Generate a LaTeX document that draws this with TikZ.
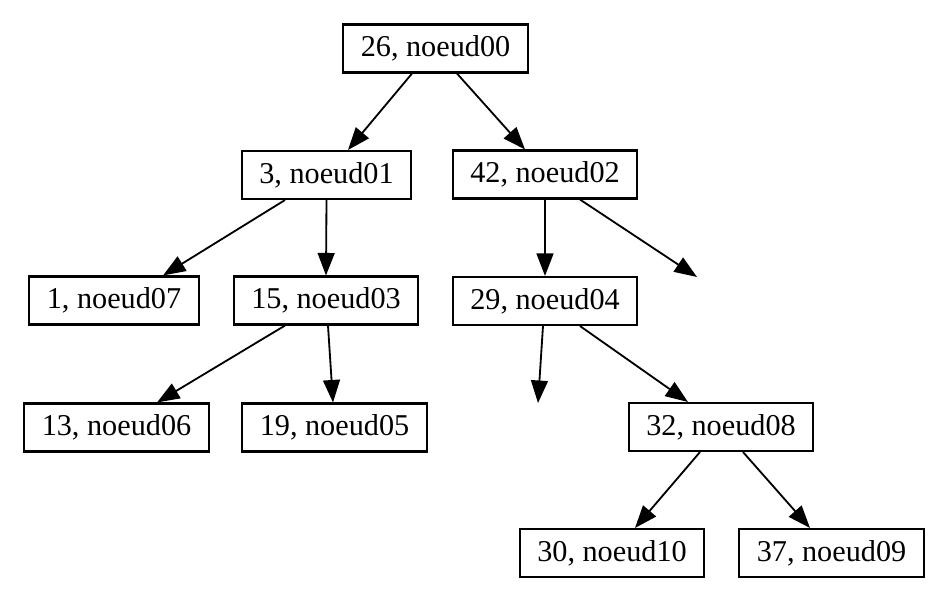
\documentclass[tikz,border=0pt]{standalone}
\usepackage{fontspec}
\setmainfont{Liberation Serif}
\usetikzlibrary{arrows.meta,calc}

\begin{document}
\begin{tikzpicture}[x=0.025cm,y=-0.025cm,
	noeud/.style={draw,line width=1.6pt,font=\fontsize{21.5}{25}\selectfont,minimum height=34pt,inner xsep=12.5pt,inner ysep=0pt},
	fleche/.style={line width=1.3pt,-{Triangle[length=16pt,width=12pt]}}]
	% frame of the picture
	\useasboundingbox (0,0) rectangle (943,598);
	% the nodes, row by row
	\node[noeud] (n00) at (435.5,48.5) {26, noeud00};
	\node[noeud] (n01) at (326.5,175) {3, noeud01};
	\node[noeud] (n02) at (545,174.5) {42, noeud02};
	\node[noeud] (n07) at (114,300.5) {1, noeud07};
	\node[noeud] (n03) at (326,300.5) {15, noeud03};
	\node[noeud] (n04) at (545,301) {29, noeud04};
	\node[noeud] (n06) at (116.5,427.5) {13, noeud06};
	\node[noeud] (n05) at (334.5,427.5) {19, noeud05};
	\node[noeud] (n08) at (721,427) {32, noeud08};
	\node[noeud] (n10) at (612,553) {30, noeud10};
	\node[noeud] (n09) at (831.5,553) {37, noeud09};
	% the two empty children
	\coordinate (vide1) at (697,277);
	\coordinate (vide2) at (538,403);
	% edges
	\draw[fleche] ($(n00.south)+(-23.5,0)$) -- ($(n01.north)+(21.5,0)$);
	\draw[fleche] ($(n00.south)+(21.5,0)$) -- ($(n02.north)+(-20,0)$);
	\draw[fleche] ($(n01.south)+(-41.5,0)$) -- ($(n07.north)+(49,0)$);
	\draw[fleche] (n01.south) -- (n03.north);
	\draw[fleche] (n02.south) -- (n04.north);
	\draw[fleche] ($(n02.south)+(35,0)$) -- (vide1);
	\draw[fleche] ($(n03.south)+(-41,0)$) -- ($(n06.north)+(40.5,0)$);
	\draw[fleche] ($(n03.south)+(2,0)$) -- ($(n05.north)+(-1.5,0)$);
	\draw[fleche] ($(n04.south)+(-2,0)$) -- (vide2);
	\draw[fleche] ($(n04.south)+(35,0)$) -- ($(n08.north)+(-33,0)$);
	\draw[fleche] ($(n08.south)+(-21,0)$) -- ($(n10.north)+(23,0)$);
	\draw[fleche] ($(n08.south)+(22,0)$) -- ($(n09.north)+(-21.5,0)$);
\end{tikzpicture}
\end{document}
